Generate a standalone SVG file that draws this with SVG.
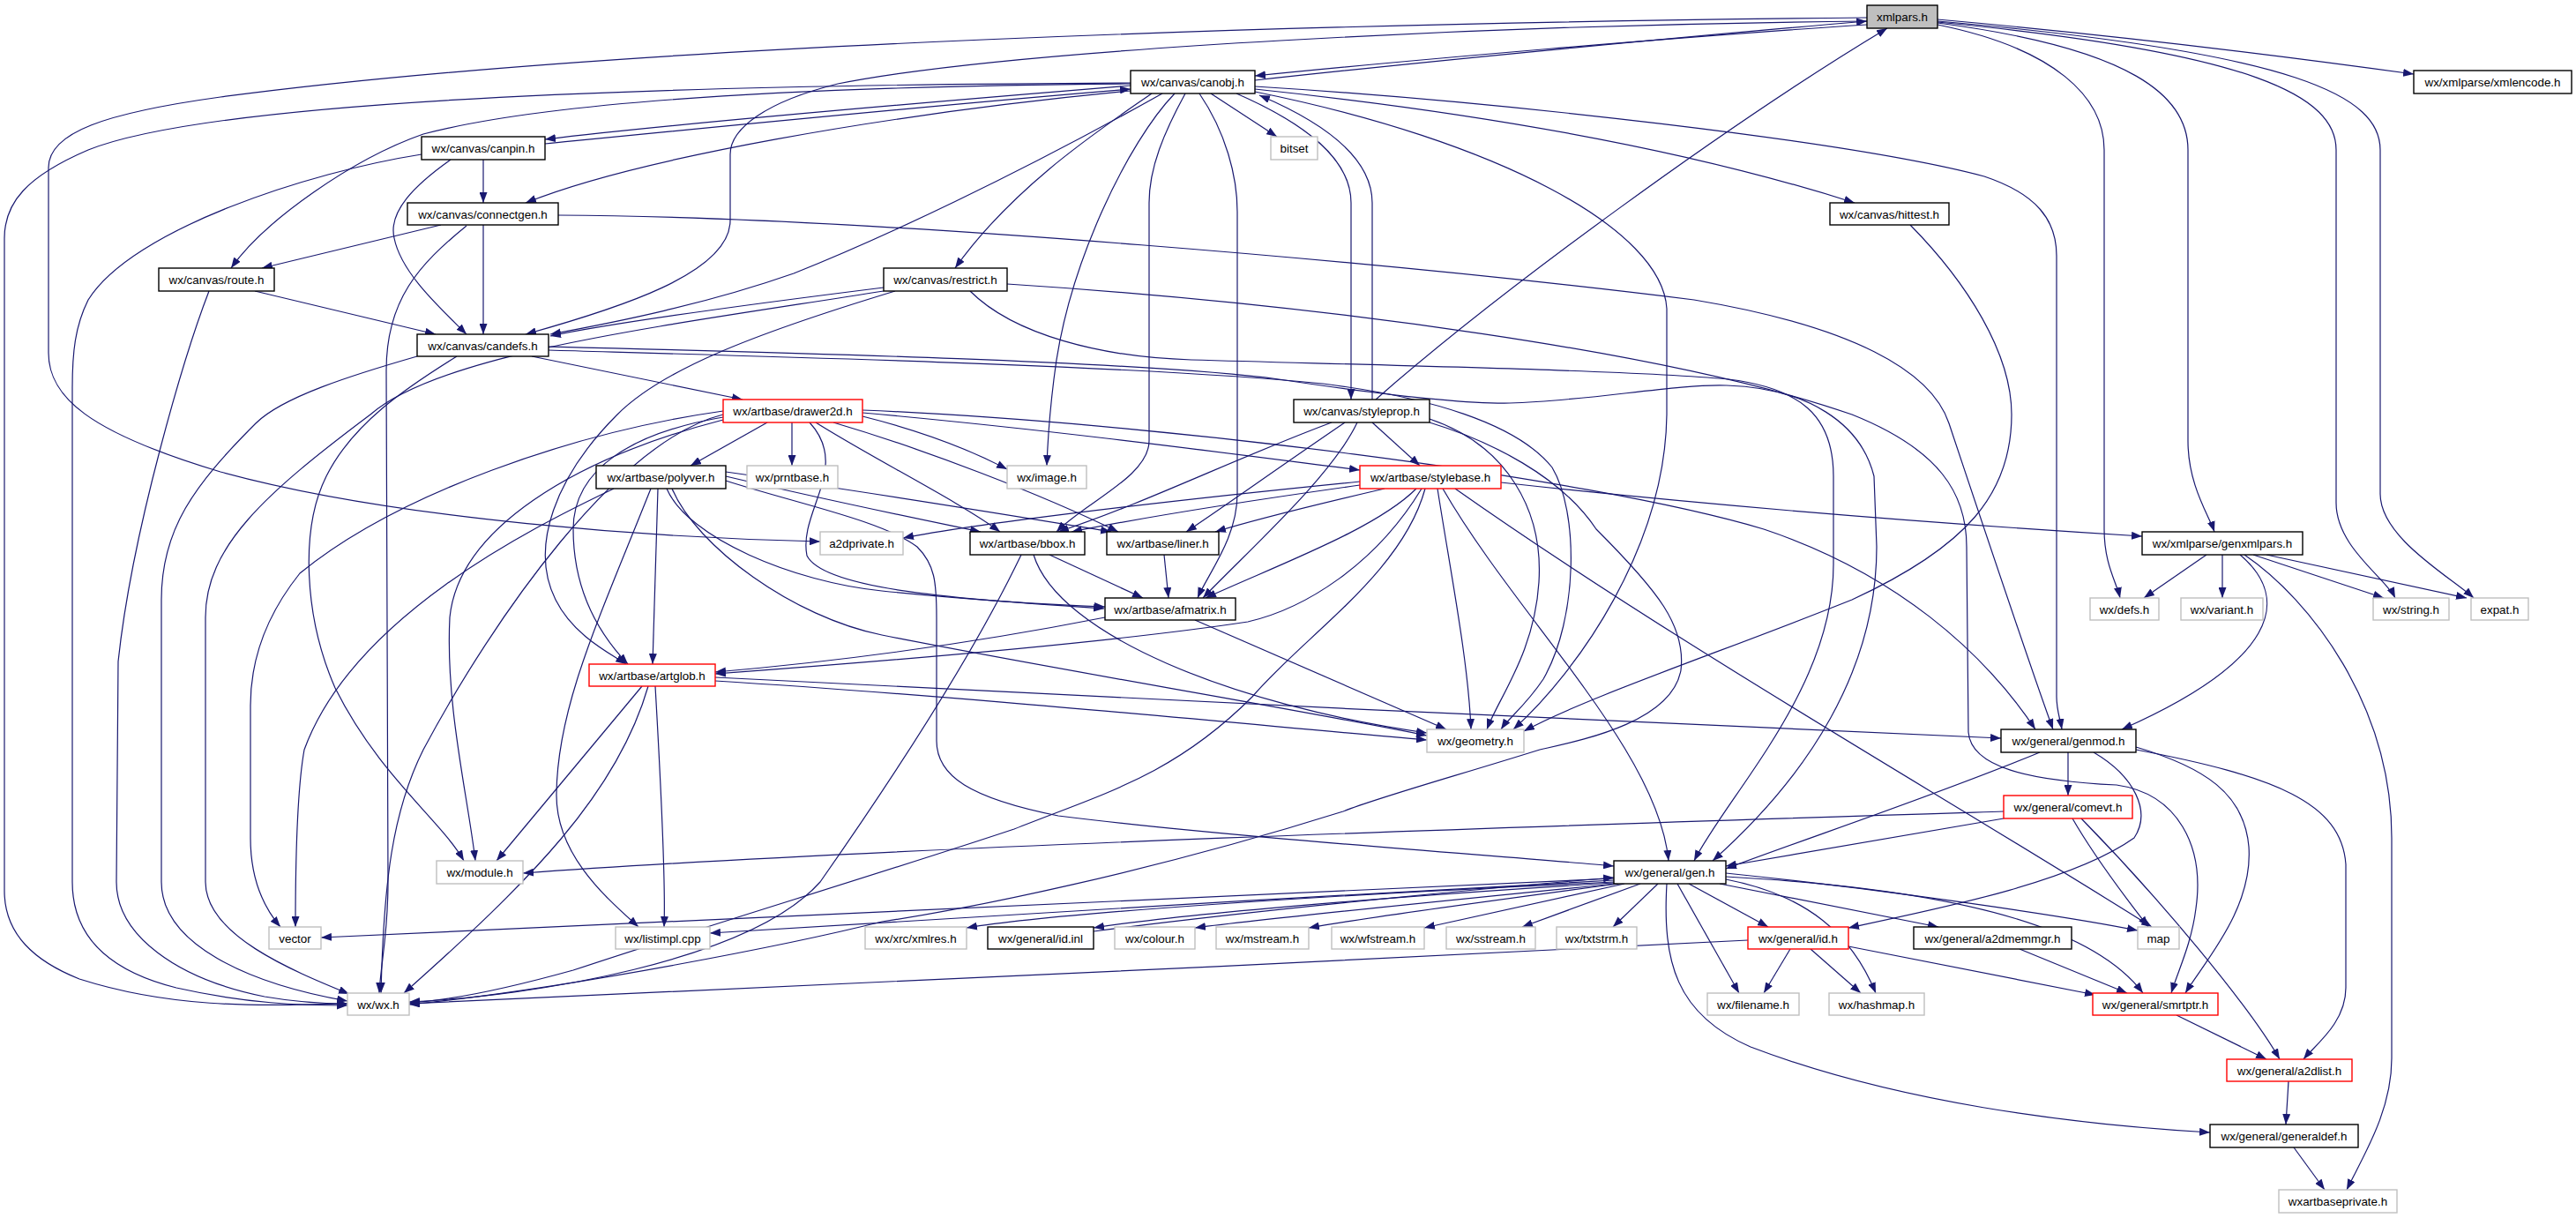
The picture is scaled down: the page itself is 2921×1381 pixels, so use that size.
<svg xmlns="http://www.w3.org/2000/svg" width="2921" height="1381" viewBox="0 0 2921 1381">
<defs>
<marker id="a" markerWidth="12" markerHeight="9" refX="12" refY="4.5" orient="auto" markerUnits="userSpaceOnUse"><path d="M0,0 L12,4.5 L0,9 z" fill="#191970"/></marker>
<style>
.n rect{fill:#fff;stroke:#000;stroke-width:1.4}
.g rect{stroke:#bfbfbf}
.r rect{stroke:#ff0000}
.x rect{fill:#bfbfbf}
text{font-family:"Liberation Sans",Arial,sans-serif;font-size:13.4px;text-anchor:middle;fill:#000}
.e path{fill:none;stroke:#191970;stroke-width:1.2;marker-end:url(#a)}
</style>
</defs>
<rect width="2921" height="1381" fill="#fff"/>
<g id="edges" class="e">
<path d="M2117,28 C1900,42 1600,68 1423,86"/>
<path d="M1423,91 C1650,66 1950,38 2117,24"/>
<path d="M1560,453 C1700,330 1960,140 2140,32"/>
<path d="M2117,20 C1500,26 700,50 250,110 C120,128 55,150 55,190 L55,400 C55,450 100,490 250,535 C450,590 750,610 930,614"/>
<path d="M2117,24 C1700,28 1150,55 950,95 C870,115 828,145 828,175 L828,250 C828,310 700,350 596,379"/>
<path d="M2197,22 C2400,40 2600,65 2737,84"/>
<path d="M2197,28 C2330,55 2386,110 2386,170 L2386,600 C2386,640 2400,660 2404,678"/>
<path d="M2197,26 C2420,55 2481,110 2481,170 L2481,500 C2481,550 2505,585 2511,603"/>
<path d="M2197,25 C2560,60 2649,110 2649,170 L2649,570 C2649,620 2705,655 2716,678"/>
<path d="M2197,24 C2610,60 2699,110 2699,170 L2699,560 C2699,610 2780,655 2805,678"/>
<path d="M1282,97 C1000,120 750,142 618,158"/>
<path d="M618,163 C800,145 1050,120 1282,101"/>
<path d="M1282,94 C800,96 250,110 100,170 C30,200 5,230 5,270 L5,1010 C5,1060 40,1090 90,1110 C200,1145 300,1140 394,1138"/>
<path d="M1282,95 C900,98 620,115 480,152 C400,180 300,250 262,304"/>
<path d="M1282,103 C1000,130 720,180 596,230"/>
<path d="M1373,106 L1448,155"/>
<path d="M1306,106 C1250,145 1150,210 1083,304"/>
<path d="M1318,106 C1150,200 1000,270 900,310 C800,345 700,365 624,379"/>
<path d="M1332,106 C1280,160 1210,300 1195,430 C1190,470 1188,500 1187,528"/>
<path d="M1344,106 C1320,150 1303,190 1303,230 L1303,500 C1303,540 1230,570 1198,603"/>
<path d="M1360,106 C1390,150 1403,200 1403,240 L1403,560 C1403,610 1370,650 1358,678"/>
<path d="M1402,106 C1480,140 1532,180 1532,230 L1532,453"/>
<path d="M1556,453 L1556,230 C1556,170 1480,130 1428,108"/>
<path d="M1423,98 C1700,115 2100,160 2250,200 C2310,220 2332,250 2332,290 L2332,790 C2332,805 2336,815 2338,827"/>
<path d="M1423,101 C1650,125 1900,165 2103,230"/>
<path d="M1423,104 C1700,160 1885,260 1890,350 L1890,470 C1888,620 1790,760 1716,827"/>
<path d="M548,181 L548,230"/>
<path d="M511,181 C470,210 440,240 447,270 C455,310 500,350 529,379"/>
<path d="M478,175 C350,195 150,260 100,340 C85,370 82,400 82,440 L82,1000 C82,1060 120,1100 200,1120 C280,1138 340,1140 394,1140"/>
<path d="M500,255 L297,304"/>
<path d="M548,255 L548,379"/>
<path d="M529,256 C475,300 438,340 438,420 L440,1000 C440,1060 432,1090 430,1126"/>
<path d="M633,244 C1000,246 1600,300 1921,340 C2100,370 2190,420 2210,480 C2250,600 2300,750 2328,827"/>
<path d="M289,330 L494,379"/>
<path d="M237,330 C210,400 150,600 134,750 L132,1000 C132,1060 200,1110 300,1130 C340,1137 370,1138 394,1138"/>
<path d="M1002,326 C850,345 700,365 624,381"/>
<path d="M1002,330 C750,370 500,400 420,470 C300,560 233,620 233,700 L233,1000 C233,1060 330,1100 396,1127"/>
<path d="M1015,330 C850,380 750,420 700,470 C630,540 600,620 630,680 C650,720 690,740 710,753"/>
<path d="M1100,330 C1150,380 1250,405 1351,408 C1600,415 1850,420 1960,430 C2040,440 2079,470 2079,540 L2079,640 C2079,780 1960,900 1921,976"/>
<path d="M1142,322 C1500,345 1900,400 2100,470 C2200,510 2230,560 2230,620 L2232,830 C2235,870 2300,885 2400,890 C2470,900 2500,960 2490,1030 C2485,1070 2470,1100 2462,1126"/>
<path d="M603,404 L842,453"/>
<path d="M473,404 C400,425 320,450 290,480 C220,550 183,600 183,680 L183,1000 C183,1070 280,1115 394,1135"/>
<path d="M518,404 C460,440 400,480 370,540 C340,600 345,700 380,780 C430,880 500,930 526,976"/>
<path d="M622,393 C900,400 1300,410 1450,430 C1550,445 1650,458 1712,457 C1800,455 1900,435 1958,437 C2050,440 2110,480 2125,540 L2128,620 C2128,760 2050,880 1942,976"/>
<path d="M622,397 C900,405 1300,415 1500,435 C1620,450 1720,480 1760,530 C1790,580 1790,700 1750,770 C1730,800 1710,815 1702,827"/>
<path d="M870,479 L783,528"/>
<path d="M898,479 L898,528"/>
<path d="M978,472 C1050,490 1100,510 1142,532"/>
<path d="M925,479 C990,520 1090,570 1134,603"/>
<path d="M945,479 C1050,510 1180,560 1268,603"/>
<path d="M978,468 C1200,488 1400,515 1542,533"/>
<path d="M978,465 C1300,478 1800,540 2000,600 C2150,650 2250,740 2308,827"/>
<path d="M820,473 C720,490 650,530 650,600 C650,680 690,730 712,753"/>
<path d="M820,466 C650,490 450,560 340,650 C300,700 284,750 284,800 L284,950 C284,1000 300,1030 318,1051"/>
<path d="M820,470 C700,500 560,700 480,850 C445,920 435,1000 432,1126"/>
<path d="M820,476 C650,520 520,600 510,700 C505,800 530,900 539,976"/>
<path d="M918,479 C965,530 905,580 915,630 C935,670 1100,680 1252,690"/>
<path d="M696,554 C600,600 400,700 345,850 C336,900 335,1000 335,1051"/>
<path d="M746,554 L740,753"/>
<path d="M738,554 C680,700 632,800 631,900 C630,970 690,1020 724,1051"/>
<path d="M823,540 C950,570 1050,590 1112,603"/>
<path d="M823,535 C1000,560 1150,585 1260,603"/>
<path d="M756,554 C780,610 900,660 1000,670 C1100,680 1200,686 1253,688"/>
<path d="M762,554 C790,620 900,700 1000,720 C1200,760 1450,800 1618,834"/>
<path d="M823,545 C900,570 1000,590 1040,620 C1060,640 1062,660 1062,700 L1062,840 C1062,880 1100,905 1200,925 C1400,950 1700,970 1830,982"/>
<path d="M1542,546 C1300,570 1100,595 1024,610"/>
<path d="M1542,550 C1400,570 1280,590 1215,603"/>
<path d="M1570,554 C1480,575 1420,590 1378,603"/>
<path d="M1606,554 C1560,600 1450,640 1367,678"/>
<path d="M1612,554 C1560,640 1480,690 1415,705 C1250,730 1000,750 811,764"/>
<path d="M1616,554 C1590,650 1480,720 1420,790 C1330,880 1250,900 1150,940 C1000,990 800,1050 650,1100 C560,1125 500,1135 464,1137"/>
<path d="M1630,554 C1645,650 1665,750 1668,827"/>
<path d="M1636,554 C1720,700 1880,850 1892,976"/>
<path d="M1650,554 C1900,730 2200,900 2440,1051"/>
<path d="M1702,547 C2000,580 2300,600 2429,608"/>
<path d="M1556,479 L1610,528"/>
<path d="M1510,479 C1400,520 1300,570 1200,603"/>
<path d="M1525,479 C1450,530 1380,580 1345,603"/>
<path d="M1539,479 C1510,540 1420,620 1364,678"/>
<path d="M1621,475 C1710,505 1750,580 1745,660 C1740,740 1700,790 1686,827"/>
<path d="M1621,479 C1690,500 1770,540 1810,600 C1880,670 1912,710 1906,760 C1895,820 1790,840 1746,850 C1650,880 1560,905 1523,920 C1300,990 1100,1030 1000,1045 C900,1070 650,1120 464,1139"/>
<path d="M1190,629 L1296,678"/>
<path d="M1172,629 C1200,720 1400,800 1618,831"/>
<path d="M1158,629 C1100,750 1000,900 930,1000 C850,1090 600,1130 464,1136"/>
<path d="M1320,629 L1325,678"/>
<path d="M1253,700 C1100,730 950,750 811,762"/>
<path d="M1355,703 L1640,827"/>
<path d="M811,768 C1200,790 1900,820 2269,837"/>
<path d="M811,772 C1100,790 1400,820 1618,839"/>
<path d="M728,778 L563,976"/>
<path d="M735,778 C700,900 600,1000 458,1126"/>
<path d="M743,778 C750,900 755,1000 753,1051"/>
<path d="M2502,629 L2431,678"/>
<path d="M2520,629 L2520,678"/>
<path d="M2555,629 L2703,678"/>
<path d="M2570,629 L2797,678"/>
<path d="M2540,629 C2600,680 2580,750 2406,827"/>
<path d="M2545,629 C2620,680 2712,800 2712,950 L2712,1200 C2712,1260 2680,1310 2661,1349"/>
<path d="M2345,853 L2345,902"/>
<path d="M2313,853 C2200,900 2050,950 1957,985"/>
<path d="M2374,853 C2420,880 2440,920 2420,950 C2350,1000 2200,1030 2096,1052"/>
<path d="M2422,847 C2500,870 2545,900 2550,960 C2555,1030 2500,1090 2478,1126"/>
<path d="M2422,850 C2580,880 2655,910 2660,980 L2660,1120 C2660,1160 2625,1185 2612,1201"/>
<path d="M2272,920 C1800,935 1000,960 593,990"/>
<path d="M2272,928 L1957,982"/>
<path d="M2350,928 C2380,980 2420,1030 2436,1051"/>
<path d="M2360,928 C2450,1020 2550,1140 2585,1201"/>
<path d="M2166,255 C2230,320 2281,400 2281,470 C2281,560 2230,620 2100,680 C1950,740 1800,790 1728,829"/>
<path d="M1830,996 C1500,1010 1000,1030 364,1063"/>
<path d="M1830,998 C1500,1015 1100,1040 805,1058"/>
<path d="M1830,1000 C1500,1015 1200,1035 1096,1052"/>
<path d="M1830,1001 C1600,1015 1350,1035 1240,1052"/>
<path d="M1240,1056 C1400,1035 1650,1010 1830,995"/>
<path d="M1832,1002 C1650,1020 1450,1040 1355,1052"/>
<path d="M1835,1002 C1700,1020 1550,1040 1484,1052"/>
<path d="M1842,1002 L1615,1052"/>
<path d="M1860,1002 L1726,1051"/>
<path d="M1880,1002 L1829,1051"/>
<path d="M1915,1002 L2005,1051"/>
<path d="M1950,1002 L2198,1051"/>
<path d="M1957,990 C2150,1010 2350,1040 2424,1055"/>
<path d="M1957,994 C2250,1010 2380,1060 2430,1126"/>
<path d="M1957,997 C2050,1015 2100,1060 2127,1126"/>
<path d="M1902,1002 L1972,1126"/>
<path d="M1890,1002 C1885,1090 1900,1150 1985,1187 C2150,1250 2350,1275 2506,1284"/>
<path d="M1982,1066 C1500,1090 800,1125 464,1138"/>
<path d="M2030,1076 L2000,1126"/>
<path d="M2053,1076 L2110,1126"/>
<path d="M2096,1073 L2376,1128"/>
<path d="M2290,1076 L2412,1126"/>
<path d="M2468,1151 L2570,1201"/>
<path d="M2595,1226 L2592,1275"/>
<path d="M2601,1301 L2636,1349"/>
</g>
<g id="n_xmlpars" class="n x"><rect x="2117" y="6" width="80" height="26"/><text x="2157" y="24">xmlpars.h</text></g>
<g id="n_canobj" class="n"><rect x="1282" y="80" width="141" height="26"/><text x="1352.5" y="98">wx/canvas/canobj.h</text></g>
<g id="n_xmlencode" class="n"><rect x="2737" y="80" width="179" height="26"/><text x="2826.5" y="98">wx/xmlparse/xmlencode.h</text></g>
<g id="n_canpin" class="n"><rect x="478" y="155" width="140" height="26"/><text x="548" y="173">wx/canvas/canpin.h</text></g>
<g id="n_bitset" class="n g"><rect x="1441" y="155" width="53" height="26"/><text x="1467.5" y="173">bitset</text></g>
<g id="n_connectgen" class="n"><rect x="462" y="230" width="171" height="25"/><text x="547.5" y="247.5">wx/canvas/connectgen.h</text></g>
<g id="n_hittest" class="n"><rect x="2075" y="230" width="135" height="25"/><text x="2142.5" y="247.5">wx/canvas/hittest.h</text></g>
<g id="n_route" class="n"><rect x="180" y="304" width="131" height="26"/><text x="245.5" y="322">wx/canvas/route.h</text></g>
<g id="n_restrict" class="n"><rect x="1002" y="304" width="140" height="26"/><text x="1072" y="322">wx/canvas/restrict.h</text></g>
<g id="n_candefs" class="n"><rect x="473" y="379" width="149" height="25"/><text x="547.5" y="396.5">wx/canvas/candefs.h</text></g>
<g id="n_drawer2d" class="n r"><rect x="820" y="453" width="158" height="26"/><text x="899" y="471">wx/artbase/drawer2d.h</text></g>
<g id="n_styleprop" class="n"><rect x="1467" y="453" width="154" height="26"/><text x="1544" y="471">wx/canvas/styleprop.h</text></g>
<g id="n_polyver" class="n"><rect x="676" y="528" width="147" height="26"/><text x="749.5" y="546">wx/artbase/polyver.h</text></g>
<g id="n_prntbase" class="n g"><rect x="847" y="528" width="103" height="26"/><text x="898.5" y="546">wx/prntbase.h</text></g>
<g id="n_image" class="n g"><rect x="1142" y="528" width="90" height="26"/><text x="1187" y="546">wx/image.h</text></g>
<g id="n_stylebase" class="n r"><rect x="1542" y="528" width="160" height="26"/><text x="1622" y="546">wx/artbase/stylebase.h</text></g>
<g id="n_a2dprivate" class="n g"><rect x="930" y="603" width="94" height="26"/><text x="977" y="621">a2dprivate.h</text></g>
<g id="n_bbox" class="n"><rect x="1100" y="603" width="130" height="26"/><text x="1165" y="621">wx/artbase/bbox.h</text></g>
<g id="n_liner" class="n"><rect x="1255" y="603" width="127" height="26"/><text x="1318.5" y="621">wx/artbase/liner.h</text></g>
<g id="n_genxmlpars" class="n"><rect x="2429" y="603" width="182" height="26"/><text x="2520" y="621">wx/xmlparse/genxmlpars.h</text></g>
<g id="n_afmatrix" class="n"><rect x="1253" y="678" width="148" height="25"/><text x="1327" y="695.5">wx/artbase/afmatrix.h</text></g>
<g id="n_defs" class="n g"><rect x="2370" y="678" width="78" height="25"/><text x="2409" y="695.5">wx/defs.h</text></g>
<g id="n_variant" class="n g"><rect x="2473" y="678" width="93" height="25"/><text x="2519.5" y="695.5">wx/variant.h</text></g>
<g id="n_string" class="n g"><rect x="2691" y="678" width="86" height="25"/><text x="2734" y="695.5">wx/string.h</text></g>
<g id="n_expat" class="n g"><rect x="2802" y="678" width="65" height="25"/><text x="2834.5" y="695.5">expat.h</text></g>
<g id="n_artglob" class="n r"><rect x="668" y="753" width="143" height="25"/><text x="739.5" y="770.5">wx/artbase/artglob.h</text></g>
<g id="n_geometry" class="n g"><rect x="1618" y="827" width="110" height="26"/><text x="1673" y="845">wx/geometry.h</text></g>
<g id="n_genmod" class="n"><rect x="2269" y="827" width="153" height="26"/><text x="2345.5" y="845">wx/general/genmod.h</text></g>
<g id="n_comevt" class="n r"><rect x="2272" y="902" width="146" height="26"/><text x="2345" y="920">wx/general/comevt.h</text></g>
<g id="n_module" class="n g"><rect x="495" y="976" width="98" height="26"/><text x="544" y="994">wx/module.h</text></g>
<g id="n_gen" class="n"><rect x="1830" y="976" width="127" height="26"/><text x="1893.5" y="994">wx/general/gen.h</text></g>
<g id="n_vector" class="n g"><rect x="305" y="1051" width="59" height="25"/><text x="334.5" y="1068.5">vector</text></g>
<g id="n_listimpl" class="n g"><rect x="698" y="1051" width="107" height="25"/><text x="751.5" y="1068.5">wx/listimpl.cpp</text></g>
<g id="n_xmlres" class="n g"><rect x="981" y="1051" width="115" height="25"/><text x="1038.5" y="1068.5">wx/xrc/xmlres.h</text></g>
<g id="n_idinl" class="n"><rect x="1120" y="1051" width="120" height="25"/><text x="1180" y="1068.5">wx/general/id.inl</text></g>
<g id="n_colour" class="n g"><rect x="1264" y="1051" width="91" height="25"/><text x="1309.5" y="1068.5">wx/colour.h</text></g>
<g id="n_mstream" class="n g"><rect x="1379" y="1051" width="105" height="25"/><text x="1431.5" y="1068.5">wx/mstream.h</text></g>
<g id="n_wfstream" class="n g"><rect x="1510" y="1051" width="105" height="25"/><text x="1562.5" y="1068.5">wx/wfstream.h</text></g>
<g id="n_sstream" class="n g"><rect x="1640" y="1051" width="101" height="25"/><text x="1690.5" y="1068.5">wx/sstream.h</text></g>
<g id="n_txtstrm" class="n g"><rect x="1765" y="1051" width="91" height="25"/><text x="1810.5" y="1068.5">wx/txtstrm.h</text></g>
<g id="n_idh" class="n r"><rect x="1982" y="1051" width="114" height="25"/><text x="2039" y="1068.5">wx/general/id.h</text></g>
<g id="n_a2dmemmgr" class="n"><rect x="2170" y="1051" width="179" height="25"/><text x="2259.5" y="1068.5">wx/general/a2dmemmgr.h</text></g>
<g id="n_map" class="n g"><rect x="2424" y="1051" width="47" height="25"/><text x="2447.5" y="1068.5">map</text></g>
<g id="n_wxh" class="n g"><rect x="394" y="1126" width="70" height="25"/><text x="429" y="1143.5">wx/wx.h</text></g>
<g id="n_filename" class="n g"><rect x="1936" y="1126" width="104" height="25"/><text x="1988" y="1143.5">wx/filename.h</text></g>
<g id="n_hashmap" class="n g"><rect x="2074" y="1126" width="108" height="25"/><text x="2128" y="1143.5">wx/hashmap.h</text></g>
<g id="n_smrtptr" class="n r"><rect x="2373" y="1126" width="142" height="25"/><text x="2444" y="1143.5">wx/general/smrtptr.h</text></g>
<g id="n_a2dlist" class="n r"><rect x="2525" y="1201" width="142" height="25"/><text x="2596" y="1218.5">wx/general/a2dlist.h</text></g>
<g id="n_generaldef" class="n"><rect x="2506" y="1275" width="168" height="26"/><text x="2590" y="1293">wx/general/generaldef.h</text></g>
<g id="n_wxartbaseprivate" class="n g"><rect x="2584" y="1349" width="134" height="26"/><text x="2651" y="1367">wxartbaseprivate.h</text></g>
</svg>
